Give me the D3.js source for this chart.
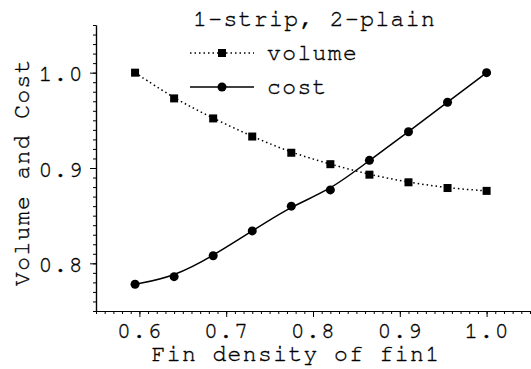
<!DOCTYPE html>
<html>
<head>
<meta charset="utf-8">
<script src="https://cdn.jsdelivr.net/npm/d3@7"></script>
<style>
  html, body { margin: 0; padding: 0; background: #fff; }
  svg { display: block; }
  text { font-family: "Nimbus Mono PS", "Nimbus Mono L", "FreeMono", "Courier", "Courier New", "Liberation Mono", monospace; fill: #000; stroke: #000; stroke-width: 0.35px; }
</style>
</head>
<body>
<svg id="chart" width="531" height="369"></svg>
<script>
// Fin density of fin1 (x) and normalised volume / cost
const finDensity = [0.595, 0.64, 0.685, 0.73, 0.775, 0.82, 0.865, 0.91, 0.955, 1.0];
const volume = [1.000, 0.973, 0.952, 0.933, 0.916, 0.904, 0.893, 0.885, 0.879, 0.876];
const cost   = [0.778, 0.786, 0.808, 0.834, 0.860, 0.877, 0.908, 0.938, 0.969, 1.000];

const xMajorTicks = [0.6, 0.7, 0.8, 0.9, 1.0];
const yMajorTicks = [0.8, 0.9, 1.0];
const xDomain = [0.55, 1.05];
const yDomain = [0.75, 1.05];

const titleText = "1-strip, 2-plain";
const seriesNames = ["volume", "cost"];
const xTitle = "Fin density of fin1";
const yTitle = "Volume and Cost";

const svg = d3.select("#chart");
const plotLeft = 96, plotRight = 530, plotTop = 25, plotBottom = 311;

const x = d3.scaleLinear().domain(xDomain).range([plotLeft, plotRight]);
const y = d3.scaleLinear().domain(yDomain).range([plotBottom, plotTop]);

const fontSize = 23, spacing = 1.4;

// minor ticks every 0.01
const xMinor = d3.range(Math.round(xDomain[0] * 100), Math.round(xDomain[1] * 100) + 1).map(v => v / 100);
const yMinor = d3.range(Math.round(yDomain[0] * 100), Math.round(yDomain[1] * 100) + 1).map(v => v / 100);

function styleAxis(g) {
  g.attr("font-family", null).attr("font-size", null);
  g.selectAll("path.domain").attr("stroke", "#000").attr("stroke-width", 1.2);
  g.selectAll(".tick line").attr("stroke", "#000").attr("stroke-width", 1);
  g.selectAll(".tick text")
    .style("font-size", fontSize + "px")
    .style("letter-spacing", spacing + "px")
    .attr("fill", "#000");
}

// x axis
const gxMinor = svg.append("g").attr("transform", `translate(0,${plotBottom})`)
  .call(d3.axisBottom(x).tickValues(xMinor).tickSize(3).tickSizeOuter(0).tickFormat(""));
styleAxis(gxMinor);
const gx = svg.append("g").attr("transform", `translate(0,${plotBottom})`)
  .call(d3.axisBottom(x).tickValues(xMajorTicks).tickSize(6).tickSizeOuter(0).tickFormat(d3.format(".1f")));
styleAxis(gx);
gx.selectAll(".tick text")
  .attr("y", 27).attr("dy", 0)
  .attr("text-anchor", "middle");

// y axis
const gyMinor = svg.append("g").attr("transform", `translate(${plotLeft},0)`)
  .call(d3.axisLeft(y).tickValues(yMinor).tickSize(3).tickSizeOuter(0).tickFormat(""));
styleAxis(gyMinor);
const gy = svg.append("g").attr("transform", `translate(${plotLeft},0)`)
  .call(d3.axisLeft(y).tickValues(yMajorTicks).tickSize(6).tickSizeOuter(0).tickFormat(d3.format(".1f")));
styleAxis(gy);
gy.selectAll(".tick text")
  .attr("x", -12).attr("dy", "0.35em")
  .attr("text-anchor", "end");

// axis titles
svg.append("text")
  .attr("x", (plotLeft + 490) / 2 + 3).attr("y", 361)
  .attr("text-anchor", "middle")
  .style("font-size", fontSize + "px")
  .style("letter-spacing", spacing + "px")
  .text(xTitle);

svg.append("text")
  .attr("transform", `translate(29,${(plotTop + plotBottom) / 2 + 4}) rotate(-90)`)
  .attr("text-anchor", "middle")
  .style("font-size", fontSize + "px")
  .style("letter-spacing", spacing + "px")
  .text(yTitle);

// series lines
const line = (vals) => d3.line()
  .x((d, i) => x(finDensity[i]))
  .y(d => y(d))
  .curve(d3.curveBasis)(vals);

svg.append("path").attr("d", line(volume))
  .attr("fill", "none").attr("stroke", "#000").attr("stroke-width", 1.5)
  .attr("stroke-dasharray", "1.5 3");

svg.append("path").attr("d", line(cost))
  .attr("fill", "none").attr("stroke", "#000").attr("stroke-width", 1.5);

// markers
const sq = 8;
svg.append("g").selectAll("rect").data(volume).join("rect")
  .attr("x", (d, i) => x(finDensity[i]) - sq / 2)
  .attr("y", d => y(d) - sq / 2)
  .attr("width", sq).attr("height", sq).attr("fill", "#000");

svg.append("g").selectAll("circle").data(cost).join("circle")
  .attr("cx", (d, i) => x(finDensity[i]))
  .attr("cy", d => y(d))
  .attr("r", 4.5).attr("fill", "#000");

// legend
const lg = svg.append("g");
lg.append("text").attr("x", 193).attr("y", 26)
  .style("font-size", fontSize + "px").style("letter-spacing", spacing + "px")
  .text(titleText);

const legendRows = [
  { name: seriesNames[0], y: 53, dashed: true },
  { name: seriesNames[1], y: 87, dashed: false }
];
legendRows.forEach(r => {
  lg.append("line").attr("x1", 190).attr("x2", 254).attr("y1", r.y).attr("y2", r.y)
    .attr("stroke", "#000").attr("stroke-width", 1.5)
    .attr("stroke-dasharray", r.dashed ? "1.5 3" : null);
  if (r.dashed) {
    lg.append("rect").attr("x", 222 - sq / 2).attr("y", r.y - sq / 2)
      .attr("width", sq).attr("height", sq).attr("fill", "#000");
  } else {
    lg.append("circle").attr("cx", 222).attr("cy", r.y).attr("r", 4.5).attr("fill", "#000");
  }
  lg.append("text").attr("x", 267).attr("y", r.y + 7)
    .style("font-size", fontSize + "px").style("letter-spacing", spacing + "px")
    .text(r.name);
});
</script>
</body>
</html>
